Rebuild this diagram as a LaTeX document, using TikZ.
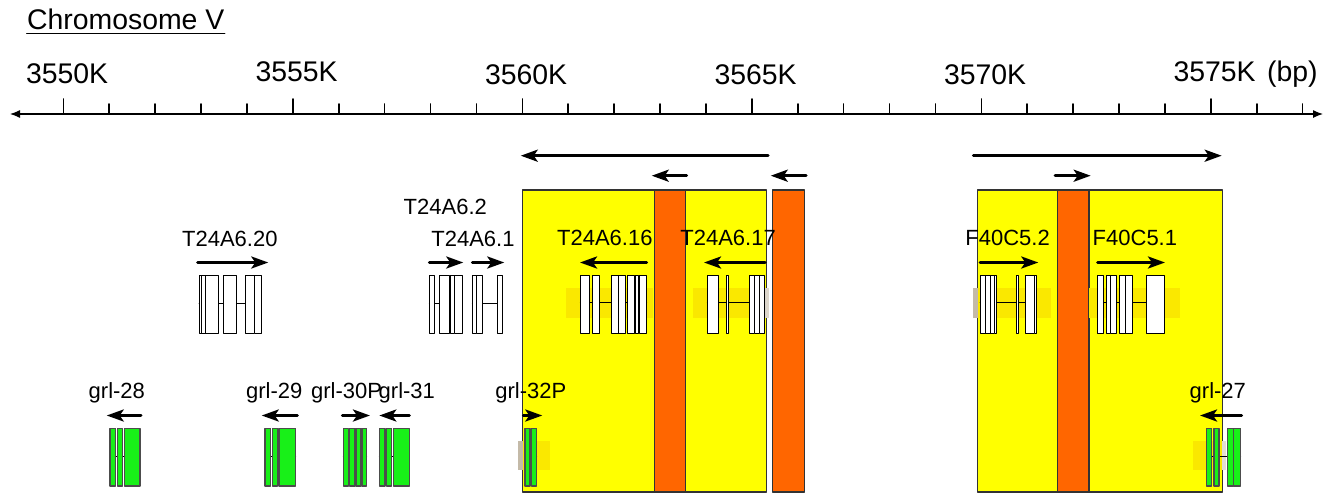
\documentclass[tikz,border=0pt]{standalone}
\usepackage{fontspec}
\setmainfont{Liberation Sans}
\usetikzlibrary{arrows.meta}
\usetikzlibrary{positioning}
\definecolor{hityellow}{RGB}{255,255,0}
\definecolor{delorange}{RGB}{255,102,0}
\definecolor{grlgreen}{RGB}{24,240,24}
\definecolor{utrshade}{RGB}{250,232,0}
\definecolor{utrgrey}{RGB}{196,186,168}
\tikzset{
  hitbox/.style={draw=black!80, fill=hityellow, line width=0.6pt},
  delbox/.style={draw=black!80, fill=delorange, line width=0.6pt},
  exon/.style={draw=black, fill=white, line width=0.5pt},
  grlexon/.style={draw=black!70, fill=grlgreen, line width=0.7pt},
  intron/.style={draw=black, line width=0.5pt},
  strand/.style={line width=1.5pt, -{Stealth[length=8.5pt,width=6pt,inset=2pt]}},
  kblabel/.style={font=\fontsize{14.2}{17}\selectfont, anchor=base, inner sep=0pt},
  genelabel/.style={font=\fontsize{11}{13}\selectfont, anchor=base west, inner sep=0pt}
}
\begin{document}
\begin{tikzpicture}[line cap=round,line join=round, x=0.5pt,y=-0.5pt]
\useasboundingbox (0,0) rectangle (1326,493);
\node[kblabel, anchor=base west] (chrom) at (26.7,29) {Chromosome V};
\draw[line width=0.5pt] ([yshift=-2pt]chrom.base west) -- ([yshift=-2pt]chrom.base east);
\draw[{Latex[length=5pt,width=4pt]}-{Latex[length=5pt,width=4pt]}, line width=0.6pt] (10,114) -- (1323,114);
\foreach \k in {0,...,27}
  \draw[line width=0.8pt] ({63.3+45.9*\k},114) -- ({63.3+45.9*\k},104);
\foreach \k in {0,5,...,25}
  \draw[line width=0.8pt] ({63.3+45.9*\k},114) -- ({63.3+45.9*\k},99);
\foreach \k/\by in {0/83.5,5/81.5,10/84,15/84,20/84,25/81}
  {\pgfmathtruncatemacro{\kbval}{3550+\k}
   \node[kblabel] (kb\k) at ({67.1+45.9*\k},\by) {\kbval K};}
\node[kblabel, anchor=base west] (bp) at (1266.7,81) {(bp)};
\draw[hitbox] (522.3,190) rectangle (766.7,492);
\draw[hitbox] (977.7,190) rectangle (1222.3,492);
\draw[delbox] (654.3,190) rectangle (685.7,492);
\draw[delbox] (772.7,190) rectangle (804.3,492);
\draw[delbox] (1057.7,190) rectangle (1089,492);
\draw[strand] (768,155.7) -- (520.7,155.7);
\draw[strand] (973.3,155.7) -- (1221.7,155.7);
\draw[strand] (686.7,175.7) -- (651.7,175.7);
\draw[strand] (806,175.7) -- (770.7,175.7);
\draw[strand] (1055,175.7) -- (1090.7,175.7);
\fill[utrshade] (566,288) rectangle (653,318);
\fill[utrshade] (692.7,288) rectangle (765,318);
\fill[utrgrey!60] (765,288) rectangle (769,318);
\fill[utrgrey] (973,288) rectangle (978,318);
\fill[utrshade] (978,288) rectangle (1051,318);
\fill[utrshade] (1089,288) rectangle (1180,318);
\fill[utrgrey] (518,441) rectangle (523,470);
\fill[utrshade] (523,441) rectangle (550,470);
\fill[utrshade] (1193,441) rectangle (1222,470);
\fill[utrgrey!50] (1222,441) rectangle (1225.5,470);
\node[genelabel] (t20) at (181.7,246) {T24A6.20};
\draw[strand] (197.7,262.5) -- (268.3,262.5);
\draw[intron] (199,303) -- (261,303);
\foreach \a/\b in {199/201.5,201.5/205.5,205.5/218.3,223.3/236,245/254.3,254.3/261}
  \draw[exon] (\a,275.5) rectangle (\b,333.5);
\node[genelabel] (t2) at (403.3,214) {T24A6.2};
\draw[strand] (429.3,262.5) -- (463.3,262.5);
\draw[intron] (429.3,303) -- (462.3,303);
\foreach \a/\b in {429.3/434.3,439.3/449.3,450.7/454,454/462.3}
  \draw[exon] (\a,275.5) rectangle (\b,333.5);
\node[genelabel] (t1) at (431,246) {T24A6.1};
\draw[strand] (472.3,262.5) -- (504.3,262.5);
\draw[intron] (472.3,303) -- (502.3,303);
\foreach \a/\b in {472.3/476,476/482.3,497.7/502.3}
  \draw[exon] (\a,275.5) rectangle (\b,333.5);
\node[genelabel] (t16) at (556.7,245) {T24A6.16};
\draw[strand] (646.7,262.5) -- (580,262.5);
\draw[intron] (580.3,302.5) -- (646.7,302.5);
\foreach \a/\b in {580.3/589.3,592.3/599.3,611.3/618.3,618.7/625.7,627.3/634.3,635.7/638.3,639.3/646.7}
  \draw[exon] (\a,275.5) rectangle (\b,333.5);
\node[genelabel] (t17) at (680,245) {T24A6.17};
\draw[strand] (765,262.5) -- (704,262.5);
\draw[intron] (707.3,302.5) -- (764.3,302.5);
\foreach \a/\b in {707.3/718.3,726/728.7,749.3/754,754.3/759,759.3/764.3}
  \draw[exon] (\a,275.5) rectangle (\b,333.5);
\node[genelabel] (f2) at (965,245) {F40C5.2};
\draw[strand] (980,262.5) -- (1038.3,262.5);
\draw[intron] (980,302.5) -- (1036,302.5);
\foreach \a/\b in {980/985.7,985.7/990.7,990.7/994,994/996.7,1016.3/1018.7,1025.3/1034.3,1034.3/1036}
  \draw[exon] (\a,275.5) rectangle (\b,333.5);
\node[genelabel] (f1) at (1092.3,245) {F40C5.1};
\draw[strand] (1097.7,262.5) -- (1165,262.5);
\draw[intron] (1097.7,302.5) -- (1164,302.5);
\foreach \a/\b in {1097.7/1103.3,1106/1110,1110/1116.7,1119.3/1125.7,1125.7/1132.7,1146/1164}
  \draw[exon] (\a,275.5) rectangle (\b,333.5);
\node[genelabel] (g28) at (88.3,398) {grl-28};
\draw[strand] (141,415.5) -- (106.7,415.5);
\draw[intron] (110,456) -- (140,456);
\foreach \a/\b in {110/115.7,117.3/122.3,124.3/140}
  \draw[grlexon] (\a,428.3) rectangle (\b,486);
\node[genelabel] (g29) at (245.7,398) {grl-29};
\draw[strand] (297.3,415.5) -- (261.7,415.5);
\draw[intron] (265,456) -- (295.7,456);
\foreach \a/\b in {265/270.7,272.3/277.7,279/295.7}
  \draw[grlexon] (\a,428.3) rectangle (\b,486);
\node[genelabel] (g30) at (310.7,398) {grl-30P};
\draw[strand] (342.3,415.5) -- (370,415.5);
\draw[intron] (343.3,456) -- (366.7,456);
\foreach \a/\b in {343.3/348.3,349.3/355,356/361,362/366.7}
  \draw[grlexon] (\a,428.3) rectangle (\b,486);
\node[genelabel] (g31) at (378.3,398) {grl-31};
\draw[strand] (409.3,415.5) -- (379.3,415.5);
\draw[intron] (379.3,456) -- (409.3,456);
\foreach \a/\b in {379.3/385,386.7/391.7,393.3/409.3}
  \draw[grlexon] (\a,428.3) rectangle (\b,486);
\node[genelabel] (g32) at (495,398) {grl-32P};
\draw[strand] (523.3,415.5) -- (542.3,415.5);
\draw[intron] (525,456) -- (536.7,456);
\foreach \a/\b in {525/530,531.7/536.7}
  \draw[grlexon] (\a,428.3) rectangle (\b,486);
\node[genelabel] (g27) at (1189.3,398) {grl-27};
\draw[strand] (1241.7,415.5) -- (1200,415.5);
\draw[intron] (1206.7,456) -- (1240.7,456);
\foreach \a/\b in {1206.7/1211.7,1214/1219,1227.3/1233.3,1233.3/1240.7}
  \draw[grlexon] (\a,428.3) rectangle (\b,486);
\end{tikzpicture}
\end{document}
